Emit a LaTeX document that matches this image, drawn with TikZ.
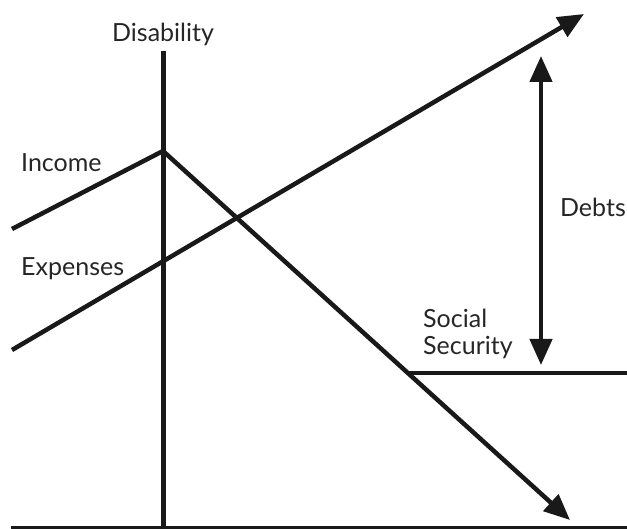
\documentclass[tikz,border=0pt]{standalone}
\usepackage{fontspec}
\setmainfont{Lato}
\usetikzlibrary{arrows.meta}
\begin{document}
\begin{tikzpicture}[x=1pt,y=-1pt,
  ln/.style={line width=4.5pt, draw=black!90},
  tip/.style={-{Triangle[length=26pt,width=22pt]}},
  lbl/.style={anchor=base west, inner sep=0pt, font=\fontsize{25}{30}\selectfont, text=black!85}]
\useasboundingbox (0,0) rectangle (627,529);
\clip (0,0) rectangle (627,529);
% coordinates
\coordinate (b0) at (11,527);
\coordinate (b1) at (640,527);
\coordinate (v0) at (163,51);
\coordinate (v1) at (163,527);
\coordinate (i0) at (12,229);
\coordinate (ip) at (163,151);
\coordinate (i1) at (570,520);
\coordinate (e0) at (12,350);
\coordinate (e1) at (584,14);
\coordinate (s0) at (408,373);
\coordinate (s1) at (640,373);
\coordinate (d0) at (541,56);
\coordinate (d1) at (541,365);
% lines
\draw[ln, line width=3pt] (b0) -- (b1);
\draw[ln, line width=5pt] (v0) -- (v1);
\draw[ln, tip] (i0) -- (ip) -- (i1);
\draw[ln, tip] (e0) -- (e1);
\draw[ln] (s0) -- (s1);
\draw[ln, {Triangle[length=26pt,width=22pt]}-{Triangle[length=26pt,width=22pt]}] (d0) -- (d1);
% labels
\node[lbl] (dis) at (112,42) {Disability};
\node[lbl] (inc) at (21,172) {Income};
\node[lbl] (exp) at (21,276) {Expenses};
\node[lbl, anchor=base east] (deb) at (626,217) {Debts};
\node[lbl] (soc) at (423,328) {Social};
\node[lbl] (sec) at (423,355) {Security};
\end{tikzpicture}
\end{document}
